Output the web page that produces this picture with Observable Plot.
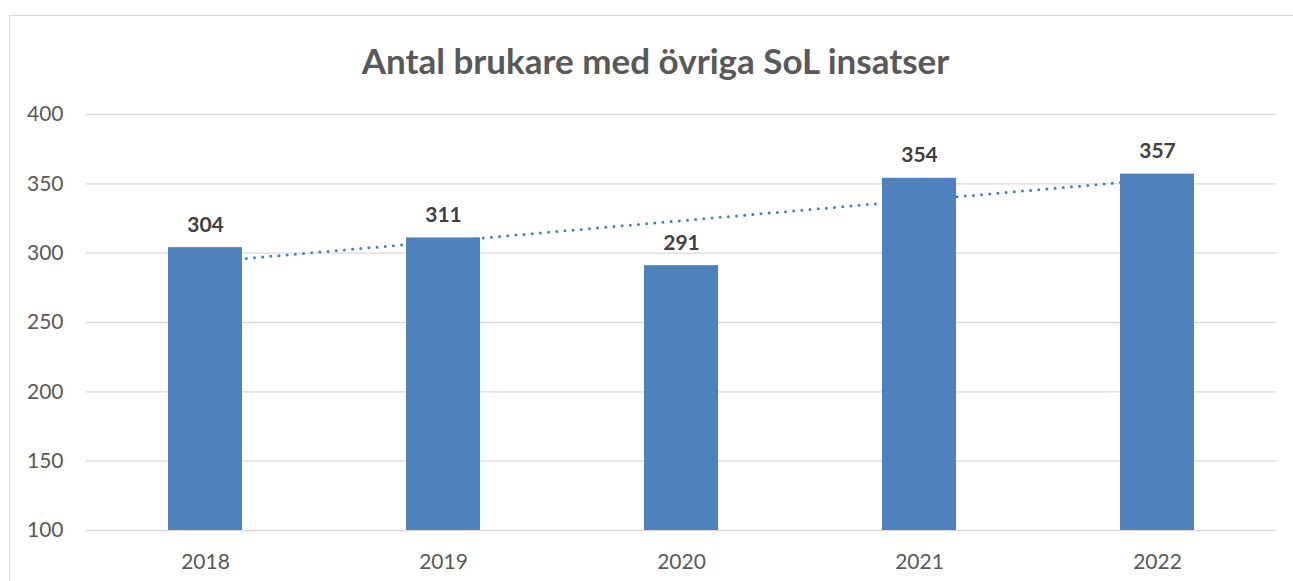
<!DOCTYPE html>
<html><head><meta charset="utf-8">
<script src="https://cdn.jsdelivr.net/npm/d3@7"></script>
<script src="https://cdn.jsdelivr.net/npm/@observablehq/plot@0.6"></script>
<style>
html,body{margin:0;padding:0;background:#fff;}
#wrap{position:relative;width:1293px;height:581px;overflow:hidden;font-family:Lato,sans-serif;}
#border{position:absolute;left:9px;top:15px;width:1300px;height:600px;border:1px solid #d9d9d9;box-sizing:border-box;}
#title{position:absolute;left:0;width:1311px;top:40px;text-align:center;font-family:Lato,sans-serif;font-weight:bold;font-size:35px;line-height:40px;color:#595959;}
#chart{position:absolute;left:0;top:0;}
</style></head><body>
<div id="wrap"><div id="border"></div><div id="title">Antal brukare med övriga SoL insatser</div><div id="chart"></div></div>
<script>
const years = ["2018","2019","2020","2021","2022"];
const values = [304, 311, 291, 354, 357];
const yTicks = [100, 150, 200, 250, 300, 350, 400];

const data = years.map((year, i) => ({year, value: values[i]}));

// linear trendline (least squares) computed from the data
const n = values.length;
const mx = (n - 1) / 2;
const my = d3.mean(values);
const slope = d3.sum(values, (v, i) => (i - mx) * (v - my)) / d3.sum(values, (v, i) => (i - mx) ** 2);
const intercept = my - slope * mx;
const trend = years.map((year, i) => ({year, v: intercept + slope * i}));

const chart = Plot.plot({
  width: 1293,
  height: 581,
  marginLeft: 86,
  marginRight: 17,
  marginTop: 114,
  marginBottom: 51,
  style: {fontFamily: "Lato, sans-serif", background: "transparent", overflow: "visible"},
  x: {domain: years, paddingInner: 0.687, paddingOuter: 0.3435, label: null},
  y: {domain: [100, 400], label: null},
  marks: [
    Plot.ruleY(yTicks, {stroke: "#d9d9d9", strokeWidth: 1.3}),
    Plot.line(trend, {x: "year", y: "v", stroke: "#4a7ebb", strokeWidth: 3, strokeDasharray: "0 8.2", strokeLinecap: "round"}),
    Plot.barY(data, {x: "year", y1: 100, y2: "value", fill: "#4F81BD"}),
    Plot.text(data, {x: "year", y: "value", text: d => String(d.value), lineAnchor: "bottom", dy: -16, fontSize: 21, fontWeight: "bold", fill: "#404040"}),
    Plot.axisX({tickSize: 0, tickPadding: 24, fontSize: 21, fill: "#595959", label: null}),
    Plot.axisY({ticks: yTicks, tickSize: 0, tickPadding: 23, fontSize: 21, fill: "#595959", label: null})
  ]
});
document.getElementById("chart").appendChild(chart);
</script>
</body></html>
